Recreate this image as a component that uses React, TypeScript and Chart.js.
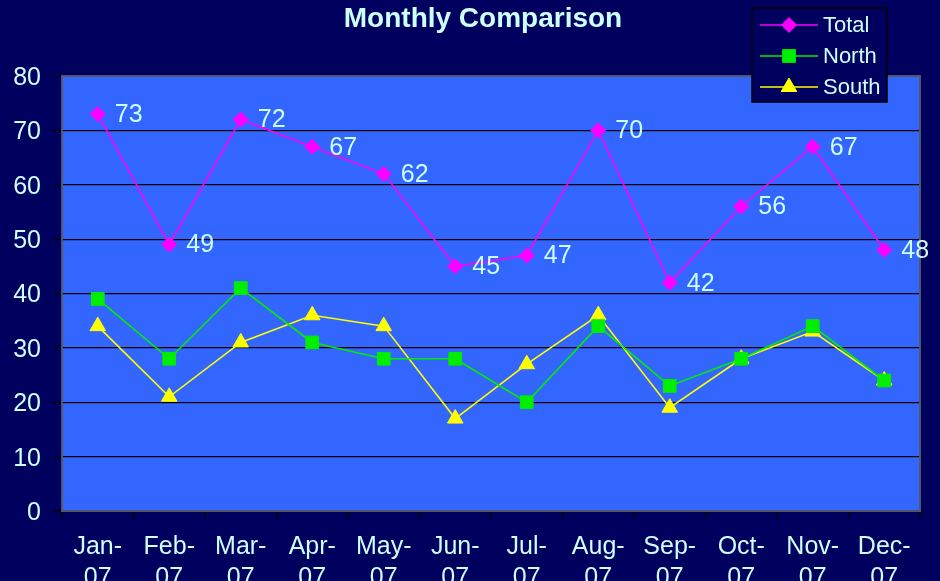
import React, { useEffect, useRef } from 'react';
import { Chart, registerables } from 'chart.js';

Chart.register(...registerables);

const months: string[][] = [
  ['Jan-', '07'], ['Feb-', '07'], ['Mar-', '07'], ['Apr-', '07'],
  ['May-', '07'], ['Jun-', '07'], ['Jul-', '07'], ['Aug-', '07'],
  ['Sep-', '07'], ['Oct-', '07'], ['Nov-', '07'], ['Dec-', '07'],
];
const totalValues = [73, 49, 72, 67, 62, 45, 47, 70, 42, 56, 67, 48];
const northValues = [39, 28, 41, 31, 28, 28, 20, 34, 23, 28, 34, 24];
const southValues = [34, 21, 31, 36, 34, 17, 27, 36, 19, 28, 33, 24];
const seriesNames = ['Total', 'North', 'South'];
const titleText = 'Monthly Comparison';

const FONT = "'Liberation Sans', Arial, sans-serif";
const TEXT = '#CCFFFF';
const BG = '#00005E';
const PLOT = '#3366FF';
const COLORS = ['#FF00FF', '#00EE00', '#FFFF00'];
const STYLES = ['rectRot', 'rect', 'triangle'];
const RADII = [7.5, 9, 9];

function drawMarker(ctx: CanvasRenderingContext2D, style: string, r: number, x: number, y: number) {
  ctx.beginPath();
  if (style === 'rectRot') {
    ctx.moveTo(x, y - r);
    ctx.lineTo(x + r, y);
    ctx.lineTo(x, y + r);
    ctx.lineTo(x - r, y);
  } else if (style === 'rect') {
    const s = r * Math.SQRT1_2;
    ctx.rect(x - s, y - s, 2 * s, 2 * s);
  } else {
    const c = Math.cos(Math.PI / 6) * r;
    ctx.moveTo(x, y - r);
    ctx.lineTo(x + c, y + r / 2);
    ctx.lineTo(x - c, y + r / 2);
  }
  ctx.closePath();
  ctx.fill();
  ctx.stroke();
}

const decor = {
  id: 'decor',
  beforeDraw(chart: any) {
    const { ctx, width, height, chartArea: a } = chart;
    ctx.save();
    ctx.fillStyle = BG;
    ctx.fillRect(0, 0, width, height);
    ctx.fillStyle = PLOT;
    ctx.fillRect(a.left, a.top, a.right - a.left, a.bottom - a.top);
    ctx.restore();
  },
  beforeDatasetsDraw(chart: any) {
    const { ctx, chartArea: a } = chart;
    ctx.save();
    ctx.strokeStyle = '#555566';
    ctx.lineWidth = 2;
    ctx.strokeRect(a.left, a.top, a.right - a.left, a.bottom - a.top);
    ctx.restore();
  },
  afterDatasetsDraw(chart: any) {
    const { ctx } = chart;
    const meta = chart.getDatasetMeta(0);
    ctx.save();
    ctx.fillStyle = TEXT;
    ctx.font = `25px ${FONT}`;
    ctx.textAlign = 'left';
    ctx.textBaseline = 'middle';
    meta.data.forEach((pt: any, i: number) => {
      ctx.fillText(String(totalValues[i]), pt.x + 17, pt.y + 1);
    });
    ctx.restore();
  },
  afterDraw(chart: any) {
    const { ctx } = chart;
    ctx.save();
    ctx.fillStyle = TEXT;
    ctx.font = `bold 28px ${FONT}`;
    ctx.textAlign = 'center';
    ctx.textBaseline = 'middle';
    ctx.fillText(titleText, 483, 19);
    const bx = 752, by = 8, bw = 135, bh = 94;
    ctx.fillStyle = BG;
    ctx.fillRect(bx, by, bw, bh);
    ctx.strokeStyle = '#000000';
    ctx.lineWidth = 1.5;
    ctx.strokeRect(bx, by, bw, bh);
    seriesNames.forEach((name, i) => {
      const y = 25 + i * 31;
      ctx.strokeStyle = COLORS[i];
      ctx.lineWidth = 1.5;
      ctx.beginPath();
      ctx.moveTo(760, y);
      ctx.lineTo(818, y);
      ctx.stroke();
      ctx.fillStyle = COLORS[i];
      ctx.lineWidth = 1;
      drawMarker(ctx, STYLES[i], RADII[i], 789, y);
      ctx.fillStyle = TEXT;
      ctx.font = `22px ${FONT}`;
      ctx.textAlign = 'left';
      ctx.textBaseline = 'middle';
      ctx.fillText(name, 823, y + 1);
    });
    ctx.restore();
  },
};

export default function App() {
  const ref = useRef<HTMLCanvasElement>(null);
  useEffect(() => {
    if (!ref.current) return;
    const values = [totalValues, northValues, southValues];
    const chart = new Chart(ref.current, {
      type: 'line',
      data: {
        labels: months,
        datasets: seriesNames.map((name, i) => ({
          label: name,
          data: values[i],
          borderColor: COLORS[i],
          backgroundColor: COLORS[i],
          borderWidth: 1.6,
          pointStyle: STYLES[i] as any,
          pointRadius: RADII[i],
          pointHoverRadius: RADII[i],
          pointBorderColor: COLORS[i],
          pointBackgroundColor: COLORS[i],
          pointBorderWidth: 1,
          tension: 0,
          fill: false,
        })),
      },
      options: {
        animation: false,
        responsive: false,
        events: [],
        layout: { padding: { left: 0, top: 76, right: 20, bottom: 0 } },
        plugins: {
          legend: { display: false },
          title: { display: false },
          tooltip: { enabled: false },
        },
        scales: {
          x: {
            type: 'category',
            offset: true,
            grid: {
              offset: true,
              drawOnChartArea: false,
              drawTicks: true,
              tickLength: 7,
              color: '#000000',
              lineWidth: 1.5,
            },
            border: { display: true, color: '#555566', width: 2 },
            ticks: {
              color: TEXT,
              font: { family: FONT, size: 25, lineHeight: 1.25 },
              padding: 13,
              maxRotation: 0,
              autoSkip: false,
            },
            afterFit(scale: any) {
              scale.height = 70;
            },
          },
          y: {
            min: 0,
            max: 80,
            ticks: {
              stepSize: 10,
              color: TEXT,
              font: { family: FONT, size: 25 },
              padding: 12,
              labelOffset: 2,
            },
            grid: {
              color: '#000000',
              lineWidth: 1.2,
              tickLength: 9,
              drawTicks: true,
            },
            border: { display: true, color: '#555566', width: 2 },
            afterFit(scale: any) {
              scale.width = 62;
            },
          },
        },
      },
      plugins: [decor],
    });
    return () => chart.destroy();
  }, []);
  return (
    <div style={{ position: 'fixed', left: 0, top: 0, width: 940, height: 581, background: BG }}>
      <canvas ref={ref} width={940} height={581} style={{ display: 'block', width: 940, height: 581 }} />
    </div>
  );
}
